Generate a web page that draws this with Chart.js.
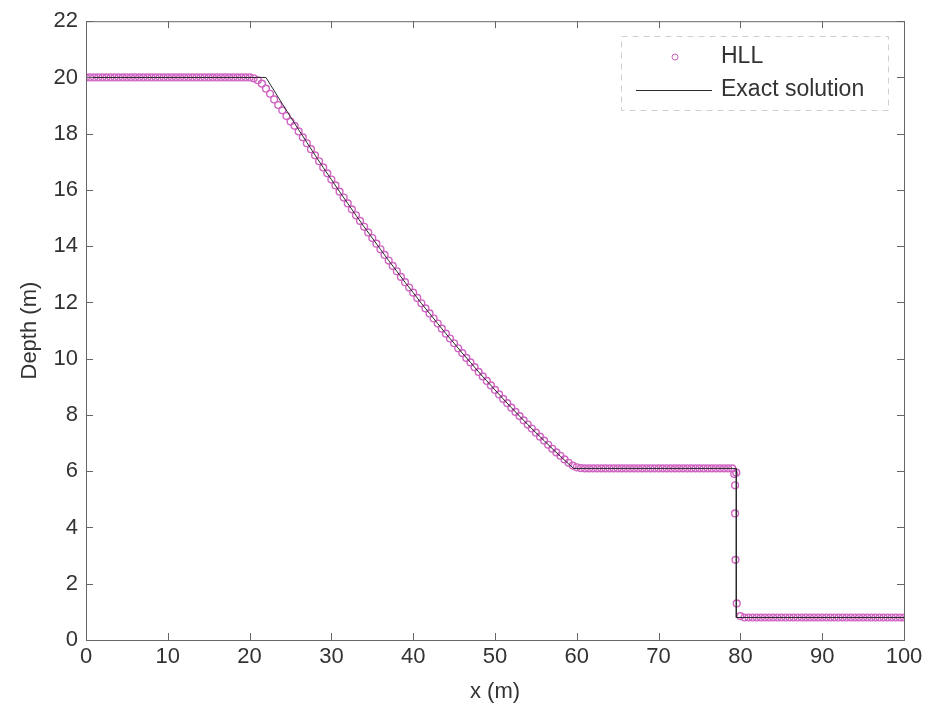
<!DOCTYPE html>
<html>
<head>
<meta charset="utf-8">
<script src="https://cdn.jsdelivr.net/npm/chart.js@4.4.1/dist/chart.umd.min.js"></script>
<style>
  html, body { margin: 0; padding: 0; background: #ffffff; }
  #wrap { width: 928px; height: 709px; }
</style>
</head>
<body>
<div id="wrap"><canvas id="myChart" width="928" height="709"></canvas></div>
<script>
// HLL depth, one value per 0.5 m cell, from x = 0 to x = 100
const hllStep = 0.5;
const hllDepth = [
  20, 20, 20, 20, 20, 20, 20, 20, 20, 20,                              // 0 - 4.5
  20, 20, 20, 20, 20, 20, 20, 20, 20, 20,                              // 5 - 9.5
  20, 20, 20, 20, 20, 20, 20, 20, 20, 20,                              // 10 - 14.5
  20, 20, 20, 20, 20, 20, 20, 20, 20, 20,                              // 15 - 19.5
  20, 19.97, 19.9, 19.78, 19.6, 19.42, 19.22, 19.02, 18.83, 18.63,     // 20 - 24.5
  18.43, 18.28, 18.08, 17.87, 17.66, 17.45, 17.23, 17.02, 16.8, 16.59, // 25 - 29.5
  16.37, 16.16, 15.94, 15.73, 15.52, 15.31, 15.1, 14.9, 14.69, 14.49,  // 30 - 34.5
  14.29, 14.09, 13.89, 13.69, 13.49, 13.3, 13.11, 12.91, 12.72, 12.53, // 35 - 39.5
  12.35, 12.16, 11.97, 11.79, 11.61, 11.43, 11.25, 11.07, 10.89, 10.72,// 40 - 44.5
  10.55, 10.37, 10.2, 10.03, 9.87, 9.7, 9.53, 9.37, 9.21, 9.05,        // 45 - 49.5
  8.89, 8.73, 8.57, 8.42, 8.26, 8.11, 7.96, 7.81, 7.66, 7.52,          // 50 - 54.5
  7.37, 7.23, 7.09, 6.94, 6.8, 6.67, 6.55, 6.42, 6.3, 6.2,             // 55 - 59.5
  6.14, 6.11, 6.1, 6.1, 6.1, 6.1, 6.1, 6.1, 6.1, 6.1,                  // 60 - 64.5
  6.1, 6.1, 6.1, 6.1, 6.1, 6.1, 6.1, 6.1, 6.1, 6.1,                    // 65 - 69.5
  6.1, 6.1, 6.1, 6.1, 6.1, 6.1, 6.1, 6.1, 6.1, 6.1,                    // 70 - 74.5
  6.1, 6.1, 6.1, 6.1, 6.1, 6.1, 6.1, 6.1, 6.1, 5.95,                   // 75 - 79.5
  0.85, 0.8, 0.8, 0.8, 0.8, 0.8, 0.8, 0.8, 0.8, 0.8,                   // 80 - 84.5
  0.8, 0.8, 0.8, 0.8, 0.8, 0.8, 0.8, 0.8, 0.8, 0.8,                    // 85 - 89.5
  0.8, 0.8, 0.8, 0.8, 0.8, 0.8, 0.8, 0.8, 0.8, 0.8,                    // 90 - 94.5
  0.8, 0.8, 0.8, 0.8, 0.8, 0.8, 0.8, 0.8, 0.8, 0.8,                    // 95 - 99.5
  0.8                                                                  // 100
];

// HLL cells caught inside the shock front
const shockX = [79.25, 79.35, 79.35, 79.4, 79.55];
const shockDepth = [5.9, 5.5, 4.5, 2.85, 1.3];

// Exact solution polyline
const exactX = [0, 22, 23, 24, 25, 26, 27, 28, 29, 30, 31, 32, 33, 34, 35, 36, 37, 38, 39, 40,
  41, 42, 43, 44, 45, 46, 47, 48, 49, 50, 51, 52, 53, 54, 55, 56, 57, 58, 59, 59.6, 79.5, 79.5, 100];
const exactDepth = [20, 20, 19.53, 19.06, 18.6, 18.14, 17.69, 17.24, 16.8, 16.37, 15.94, 15.52, 15.1,
  14.69, 14.29, 13.89, 13.49, 13.11, 12.72, 12.35, 11.97, 11.61, 11.25, 10.89, 10.55, 10.2, 9.87,
  9.53, 9.21, 8.89, 8.57, 8.26, 7.96, 7.66, 7.37, 7.09, 6.8, 6.53, 6.26, 6.1, 6.1, 0.8, 0.8];

// Axis ticks
const xTicks = [0, 10, 20, 30, 40, 50, 60, 70, 80, 90, 100];
const yTicks = [0, 2, 4, 6, 8, 10, 12, 14, 16, 18, 20, 22];

const markerColor = '#d064c2';
const lineColor = '#2a2a2a';
const textColor = '#333333';
const fontFamily = '"Liberation Sans", Arial, Helvetica, sans-serif';

const hllPoints = hllDepth.map((d, i) => ({ x: i * hllStep, y: d }));
shockX.forEach((x, i) => hllPoints.push({ x: x, y: shockDepth[i] }));
const exactPoints = exactX.map((x, i) => ({ x: x, y: exactDepth[i] }));

// box, inward ticks on all four sides, and a MATLAB style legend
const matlabFrame = {
  id: 'matlabFrame',
  afterDraw(chart) {
    const { ctx, chartArea: a, scales } = chart;
    ctx.save();
    ctx.strokeStyle = '#666666';
    ctx.lineWidth = 1;
    ctx.strokeRect(a.left + 0.5, a.top + 0.5, a.right - a.left, a.bottom - a.top);
    ctx.beginPath();
    const len = 7;
    xTicks.forEach(v => {
      const px = Math.round(scales.x.getPixelForValue(v)) + 0.5;
      ctx.moveTo(px, a.bottom); ctx.lineTo(px, a.bottom - len);
      ctx.moveTo(px, a.top); ctx.lineTo(px, a.top + len);
    });
    yTicks.forEach(v => {
      const py = Math.round(scales.y.getPixelForValue(v)) + 0.5;
      ctx.moveTo(a.left, py); ctx.lineTo(a.left + len, py);
      ctx.moveTo(a.right, py); ctx.lineTo(a.right - len, py);
    });
    ctx.stroke();

    // legend box
    const lx = 621, ly = 36, lw = 267, lh = 74;
    ctx.fillStyle = '#ffffff';
    ctx.fillRect(lx, ly, lw, lh);
    ctx.setLineDash([6, 5]);
    ctx.strokeStyle = '#cfcfcf';
    ctx.strokeRect(lx + 0.5, ly + 0.5, lw, lh);
    ctx.setLineDash([]);

    ctx.strokeStyle = markerColor;
    ctx.beginPath();
    ctx.arc(675, 57, 3, 0, Math.PI * 2);
    ctx.stroke();

    ctx.strokeStyle = lineColor;
    ctx.beginPath();
    ctx.moveTo(636, 90.5); ctx.lineTo(712, 90.5);
    ctx.stroke();

    ctx.fillStyle = textColor;
    ctx.font = '23px ' + fontFamily;
    ctx.textBaseline = 'middle';
    ctx.textAlign = 'left';
    ctx.fillText('HLL', 721, 57);
    ctx.fillText('Exact solution', 721, 90);
    ctx.restore();
  }
};

const ctx = document.getElementById('myChart').getContext('2d');

let myChart = new Chart(ctx, {
  type: 'scatter',
  data: {
    datasets: [
      {
        label: 'Exact solution',
        data: exactPoints,
        showLine: true,
        borderColor: lineColor,
        borderWidth: 1,
        pointRadius: 0,
        fill: false,
        order: 0
      },
      {
        label: 'HLL',
        data: hllPoints,
        pointStyle: 'circle',
        pointRadius: 3.4,
        pointBorderWidth: 1.4,
        pointBorderColor: markerColor,
        pointBackgroundColor: 'rgba(0,0,0,0)',
        showLine: false,
        order: 1
      }
    ]
  },
  options: {
    responsive: false,
    animation: false,
    layout: { padding: { left: 0, top: 19, right: 24, bottom: 0 } },
    plugins: {
      legend: { display: false },
      tooltip: { enabled: false }
    },
    scales: {
      x: {
        type: 'linear',
        min: 0,
        max: 100,
        afterFit: s => { s.height = 69; },
        afterBuildTicks: s => { s.ticks = xTicks.map(v => ({ value: v })); },
        grid: { drawOnChartArea: false, drawTicks: false },
        border: { display: false },
        ticks: { color: textColor, font: { family: fontFamily, size: 22 }, padding: 4, maxRotation: 0 },
        title: { display: true, text: 'x (m)', color: textColor, font: { family: fontFamily, size: 22 }, padding: { top: 0, bottom: 4 } }
      },
      y: {
        type: 'linear',
        min: 0,
        max: 22,
        afterFit: s => { s.width = 86; },
        afterBuildTicks: s => { s.ticks = yTicks.map(v => ({ value: v })); },
        grid: { drawOnChartArea: false, drawTicks: false },
        border: { display: false },
        ticks: { color: textColor, font: { family: fontFamily, size: 22 }, padding: 8 },
        title: { display: true, text: 'Depth (m)', color: textColor, font: { family: fontFamily, size: 22 }, padding: { top: 17, bottom: 0 } }
      }
    }
  },
  plugins: [matlabFrame]
});
</script>
</body>
</html>
